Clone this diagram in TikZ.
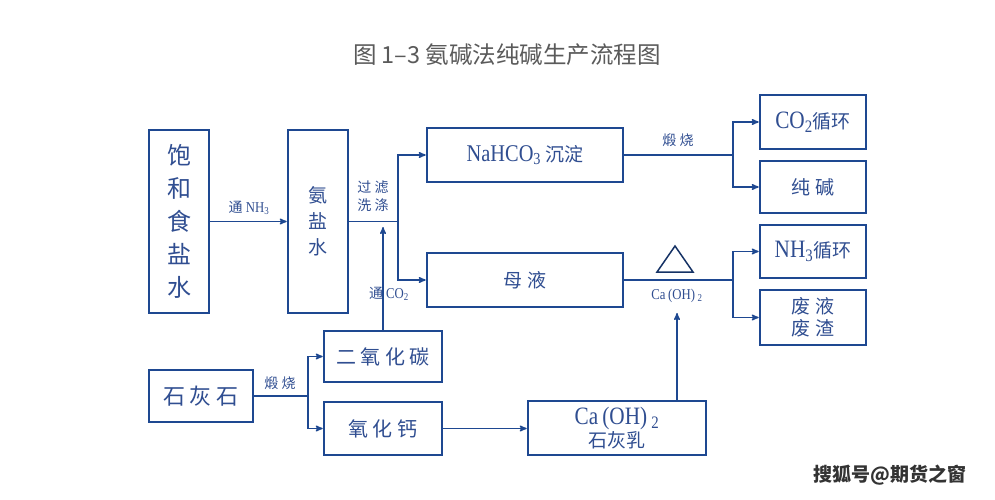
\documentclass[tikz,border=0pt]{standalone}
\usepackage{fontspec}
\setmainfont{Liberation Serif}[FakeStretch=0.85]
\newfontfamily\cjk{Noto Sans CJK SC}
\usepackage{tikz}
\usetikzlibrary{arrows}
\definecolor{flowblue}{RGB}{30,72,145}
\definecolor{textblue}{RGB}{48,78,145}
\definecolor{titlegray}{RGB}{90,90,90}
\newcommand{\lat}[1]{{\rmfamily #1}}
\tikzset{
	box/.style={draw=flowblue, line width=2.6pt, text=textblue, font=\cjk\fontsize{19}{24}\selectfont, inner sep=0pt, align=center},
	lbl/.style={text=textblue, font=\cjk\fontsize{14}{18}\selectfont, inner sep=1pt, align=center},
	flow/.style={flowblue, line width=1.4pt},
	arr/.style={flow, ->},
}
\begin{document}
\begin{tikzpicture}[x=1pt, y=-1pt, >=stealth']
		\fill[white] (0,0) rectangle (995,500);
		\useasboundingbox (0,0) rectangle (995,500);
		\node[text=titlegray, font=\cjk\fontsize{23.5}{26}\selectfont] (title) at (507,55) {图 1–3 氨碱法纯碱生产流程图};
		\node[box, minimum width=60pt, minimum height=183pt, font=\cjk\fontsize{24}{33}\selectfont] (brine) at (179,221.5) {饱\\和\\食\\盐\\水};
		\node[box, minimum width=60pt, minimum height=183pt, font=\cjk\fontsize{19}{26}\selectfont] (ammo) at (318,221.5) {氨\\盐\\水};
		\node[box, minimum width=196pt, minimum height=54pt] (nahco) at (525,155) {\lat{\fontsize{24}{24}\selectfont NaHCO\textsubscript{3}} 沉淀};
		\node[box, minimum width=196pt, minimum height=54pt] (mother) at (525,280) {母 液};
		\node[box, minimum width=106pt, minimum height=54pt] (co2cyc) at (813,122) {\lat{\fontsize{25}{25}\selectfont CO\textsubscript{2}}循环};
		\node[box, minimum width=106pt, minimum height=52pt] (soda) at (813,187) {纯 碱};
		\node[box, minimum width=106pt, minimum height=53pt] (nh3cyc) at (813,251.5) {\lat{\fontsize{25}{25}\selectfont NH\textsubscript{3}}循环};
		\node[box, minimum width=106pt, minimum height=55pt, font=\cjk\fontsize{19}{22}\selectfont] (waste) at (813,317.5) {废 液\\废 渣};
		\node[box, minimum width=104pt, minimum height=52pt, font=\cjk\fontsize{22}{24}\selectfont] (lime) at (201,396) {石 灰 石};
		\node[box, minimum width=118pt, minimum height=51pt, font=\cjk\fontsize{20}{24}\selectfont] (co2) at (383,356.5) {二 氧 化 碳};
		\node[box, minimum width=118pt, minimum height=53pt, font=\cjk\fontsize{20}{24}\selectfont] (cao) at (383,428.5) {氧 化 钙};
		\node[box, minimum width=178pt, minimum height=54pt, font=\cjk\fontsize{19}{21}\selectfont] (caoh) at (617,428) {\lat{\fontsize{25}{25}\selectfont Ca\,(OH)\,\textsubscript{2}}\\石灰乳};
		\node[lbl] (nh3lbl) at (249,208) {通 \lat{\fontsize{15}{15}\selectfont NH\textsubscript{3}}};
		\node[lbl] (washlbl) at (373,196) {过 滤\\洗 涤};
		\node[lbl] (co2lbl) at (389,294) {通 \lat{\fontsize{15}{15}\selectfont CO\textsubscript{2}}};
		\node[lbl] (burn1) at (678,140) {煅 烧};
		\node[lbl] (burn2) at (280,383) {煅 烧};
		\node[lbl, font=\rmfamily\fontsize{15}{16}\selectfont] (caohlbl) at (677,296) {Ca\,(OH)\,\textsubscript{2}};
		\node[text=black!80, font=\cjk\bfseries\fontsize{19}{22}\selectfont] (mark) at (890,475) {搜狐号@期货之窗};
		\draw[line width=1.5pt, color=flowblue!70!black] (675,246) -- (693,272) -- (657,272) -- cycle;
		\coordinate (fork1) at (398,221.5);
		\coordinate (fork2) at (733,155);
		\coordinate (fork3) at (733,280);
		\coordinate (fork4) at (308,396);
		\coordinate (co2in) at (383,227);
		\coordinate (caoin) at (677,313);
		\draw[arr] (brine) -- (ammo);
		\draw[flow] (ammo.east) -- (fork1);
		\draw[arr] (fork1) |- (nahco.west);
		\draw[arr] (fork1) |- (mother.west);
		\draw[arr] (co2.north) -- (co2in);
		\draw[flow] (nahco.east) -- (fork2);
		\draw[arr] (fork2) |- (co2cyc.west);
		\draw[arr] (fork2) |- (soda.west);
		\draw[flow] (mother.east) -- (fork3);
		\draw[arr] (fork3) |- (nh3cyc.west);
		\draw[arr] (fork3) |- (waste.west);
		\draw[flow] (lime.east) -- (fork4);
		\draw[arr] (fork4) |- (co2.west);
		\draw[arr] (fork4) |- (cao.west);
		\draw[arr] (cao.east) -- (cao.east -| caoh.west);
		\draw[arr] (caoh.north -| caoin) -- (caoin);
\end{tikzpicture}
\end{document}
